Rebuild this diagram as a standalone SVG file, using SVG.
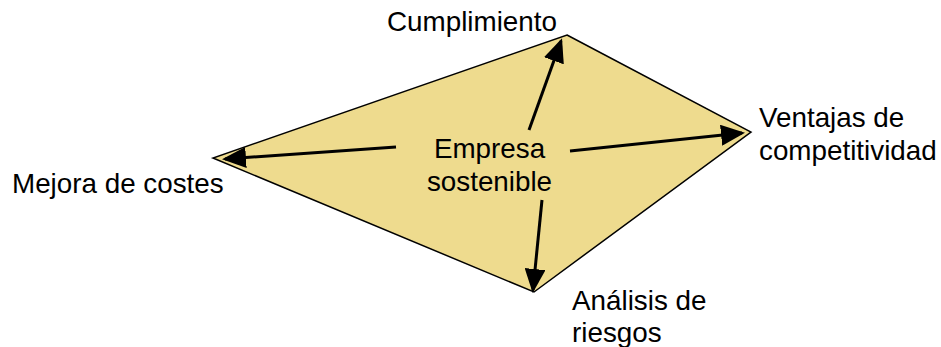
<svg xmlns="http://www.w3.org/2000/svg" width="941" height="347" viewBox="0 0 941 347">
<defs>
<style>
text{font-family:"Liberation Sans",Arial,sans-serif;font-size:27.8px;fill:#000}
.arr{stroke:#000;stroke-width:3;fill:none;marker-end:url(#ah)}
</style>
<marker id="ah" markerWidth="8" markerHeight="7" refX="7" refY="3.5" orient="auto" markerUnits="strokeWidth">
<path d="M0,0 L8,3.5 L0,7 Z" fill="#000"/>
</marker>
</defs>
<g id="diamond">
<polygon points="567,35 751,132 534,292 213,158" fill="#EEDB8E" stroke="#000" stroke-width="1.5"/>
</g>
<g id="center"><text x="489.5" y="158" text-anchor="middle">Empresa</text><text x="489.5" y="191" text-anchor="middle">sostenible</text></g>
<g id="cumplimiento"><text x="387" y="31">Cumplimiento</text></g>
<g id="ventajas"><text x="759" y="127">Ventajas de</text><text x="759" y="160">competitividad</text></g>
<g id="mejora"><text x="12" y="193">Mejora de costes</text></g>
<g id="analisis"><text x="572" y="310">Análisis de</text><text x="572" y="342">riesgos</text></g>
<g id="connectors">
<line class="arr" x1="396" y1="147" x2="225" y2="159"/>
<line class="arr" x1="529" y1="130" x2="561" y2="41"/>
<line class="arr" x1="570" y1="151" x2="742" y2="133"/>
<line class="arr" x1="542" y1="200" x2="533" y2="290"/>
</g>
</svg>
